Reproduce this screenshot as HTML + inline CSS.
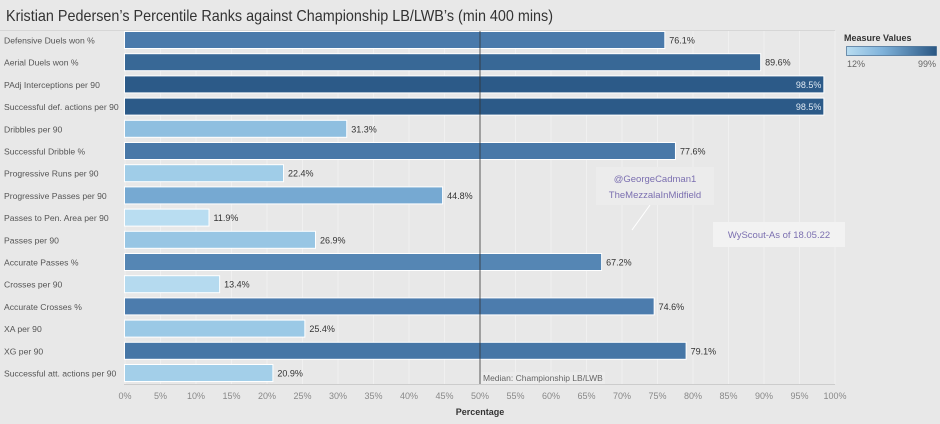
<!DOCTYPE html>
<html><head><meta charset="utf-8"><style>
body{margin:0;background:#e8e8e8;font-family:"Liberation Sans",sans-serif}
</style></head><body>
<svg id="s" width="940" height="424" xmlns="http://www.w3.org/2000/svg" style="display:block;font-family:'Liberation Sans',sans-serif">
<rect width="940" height="424" fill="#e8e8e8"/>
<text x="6" y="21" font-size="16" fill="#333" textLength="547" lengthAdjust="spacingAndGlyphs">Kristian Pedersen’s Percentile Ranks against Championship LB/LWB’s (min 400 mins)</text>
<line x1="0" y1="30.5" x2="835" y2="30.5" stroke="#d6d6d6"/>
<g id="g"></g>
<text x="844" y="41" font-size="9" font-weight="bold" fill="#333">Measure Values</text>
<defs><linearGradient id="lg"><stop offset="0" stop-color="#b9ddf1"/><stop offset="0.4" stop-color="#7fb2da"/><stop offset="1" stop-color="#2a5783"/></linearGradient></defs>
<rect x="846.5" y="46.5" width="90" height="9" fill="url(#lg)" stroke="#2a5783" stroke-width="0.6"/>
<text x="847" y="67" font-size="9" fill="#666">12%</text>
<text x="936" y="67" font-size="9" fill="#666" text-anchor="end">99%</text>
<line x1="632" y1="230" x2="650" y2="205" stroke="#fff"/>
<rect x="596" y="167" width="118" height="38" fill="#ececec"/>
<text x="655" y="182" font-size="9.5" fill="#7b6fb0" text-anchor="middle">@GeorgeCadman1</text>
<text x="655" y="198" font-size="9.5" fill="#7b6fb0" text-anchor="middle">TheMezzalaInMidfield</text>
<rect x="713" y="222" width="132" height="25" fill="#f2f2f2"/>
<text x="779" y="238" font-size="9.5" fill="#7b6fb0" text-anchor="middle">WyScout-As of 18.05.22</text>
<text x="480" y="415" font-size="9" font-weight="bold" fill="#333" text-anchor="middle">Percentage</text>
</svg>
<script>
var d=[["Defensive Duels won %",76.1,"#4a7aab"],["Aerial Duels won %",89.6,"#386896"],["PAdj Interceptions per 90",98.5,"#2c5a88"],["Successful def. actions per 90",98.5,"#2c5a88"],["Dribbles per 90",31.3,"#8fbfe0"],["Successful Dribble %",77.6,"#4878a8"],["Progressive Runs per 90",22.4,"#a0cde8"],["Progressive Passes per 90",44.8,"#76a9d2"],["Passes to Pen. Area per 90",11.9,"#b9ddf1"],["Passes per 90",26.9,"#98c6e4"],["Accurate Passes %",67.2,"#5586b4"],["Crosses per 90",13.4,"#b5daef"],["Accurate Crosses %",74.6,"#4c7cad"],["XA per 90",25.4,"#9bc9e6"],["XG per 90",79.1,"#4676a6"],["Successful att. actions per 90",20.9,"#a3cfe9"]];
var h='',X=p=>125+7.1*p;
for(var p=0;p<=100;p+=5){h+='<line x1="'+X(p)+'" y1="31" x2="'+X(p)+'" y2="384" stroke="#f2f2f2" stroke-width="0.8"/>';h+='<text x="'+X(p)+'" y="399" font-size="9" fill="#888" text-anchor="middle">'+p+'%</text>';}
d.forEach(function(r,i){var y=40+i*22.2;var c=r[2];
h+='<text x="4" y="'+(y+3.5)+'" font-size="8.6" fill="#555">'+r[0]+'</text>';
h+='<rect x="124.5" y="'+(y-8.5)+'" width="'+(X(r[1])-125)+'" height="17" fill="'+c+'" stroke="#fff" stroke-width="1"/>';
if(r[1]>95)h+='<text x="'+(X(r[1])-3)+'" y="'+(y+3.5)+'" font-size="9" fill="#dfe9f3" text-anchor="end">'+r[1].toFixed(1)+'%</text>';
else h+='<text x="'+(X(r[1])+4)+'" y="'+(y+3.5)+'" font-size="9" fill="#333">'+r[1].toFixed(1)+'%</text>';});
h+='<line x1="480" y1="31" x2="480" y2="384" stroke="#333" stroke-width="0.8"/>';
h+='<rect x="481" y="372" width="124" height="12" fill="#ececec"/><text x="483" y="381" font-size="8.5" fill="#666">Median: Championship LB/LWB</text>';
h+='<line x1="124" y1="384.5" x2="835" y2="384.5" stroke="#ccc"/>';
document.getElementById('g').innerHTML=h;
</script>
</body></html>
